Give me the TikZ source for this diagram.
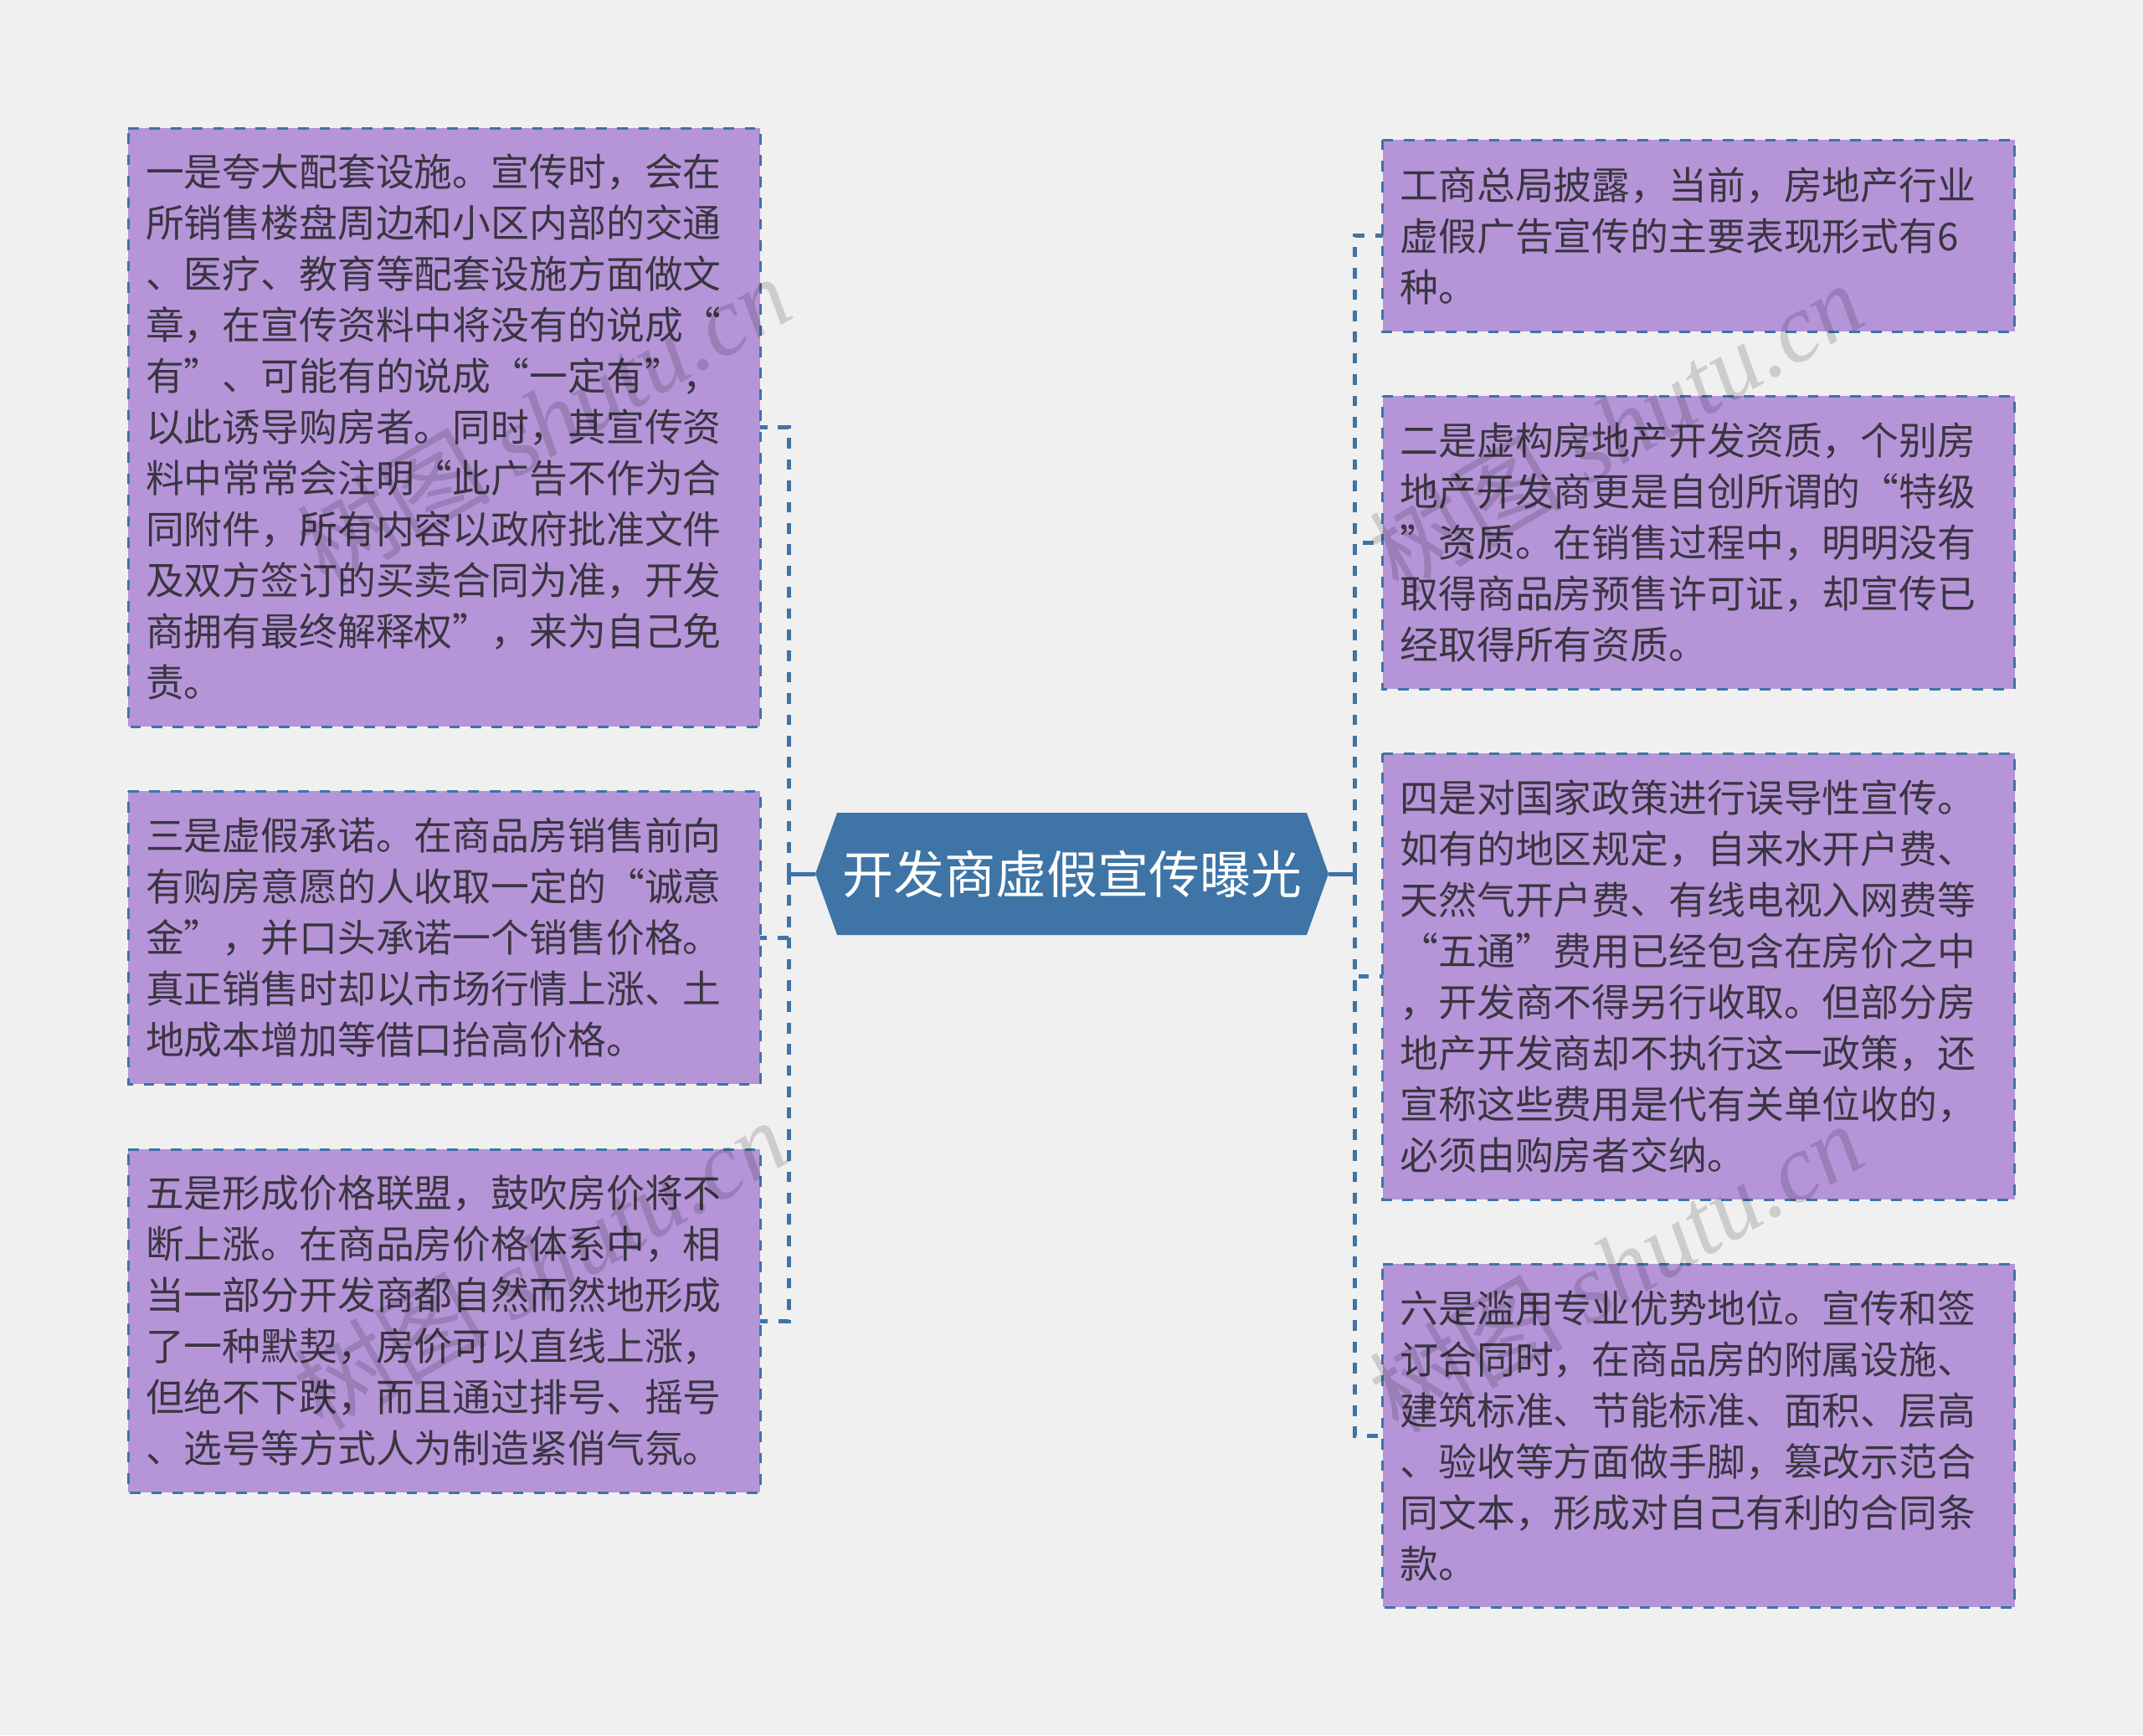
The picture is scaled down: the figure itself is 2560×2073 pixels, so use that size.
\documentclass[tikz,border=0pt]{standalone}
\usepackage{fontspec}
\newfontfamily\cjk{Noto Sans CJK SC}
\newfontfamily\wmcjk[AutoFakeSlant=0.25]{Noto Sans CJK SC}
\newfontfamily\wmlat{Liberation Serif}[ItalicFont=Liberation Serif Italic]
\definecolor{bgc}{HTML}{F0F0F0}
\definecolor{boxc}{HTML}{B595D8}
\definecolor{linec}{HTML}{3E74A6}
\definecolor{txtc}{HTML}{3A3540}
\tikzset{
  x=1pt,y=-1pt,
  textbox/.style={fill=boxc,text=txtc,font=\cjk\fontsize{45.85}{61}\selectfont,align=left,
    text width=713pt,inner xsep=21pt,inner ysep=0pt,outer sep=0pt,minimum width=755pt},
  boxedge/.style={draw=linec,line width=3pt,dash pattern=on 12.7pt off 12.7pt},
  conn/.style={draw=linec,line width=5pt,dash pattern=on 12.7pt off 12.7pt},
  stub/.style={draw=linec,line width=5pt},
  title/.style={text=white,font=\cjk\fontsize{61}{70}\selectfont,inner sep=0pt,outer sep=0pt,
    minimum width=613pt,minimum height=146pt},
  wm/.style={text=black,opacity=0.15,rotate=30,font=\fontsize{116}{120}\selectfont,inner sep=0pt}
}
\begin{document}
\begin{tikzpicture}
\useasboundingbox (0,0) rectangle (2560,2073);
\fill[bgc] (0,0) rectangle (2560,2073);
% central node
\fill[linec] (974,1044) -- (1000,971) -- (1561,971) -- (1587,1044) -- (1561,1117) -- (1000,1117) -- cycle;
\node[title] (hub) at (1280.5,1044) {开发商虚假宣传曝光};
\coordinate (hl) at (942,1044);
\coordinate (hr) at (1618,1044);
% boxes
\node[textbox,minimum height=715pt] (L1) at (530.5,510.5) {一是夸大配套设施。宣传时，会在\\所销售楼盘周边和小区内部的交通\\、医疗、教育等配套设施方面做文\\章，在宣传资料中将没有的说成“\\有”、可能有的说成“一定有”，\\以此诱导购房者。同时，其宣传资\\料中常常会注明“此广告不作为合\\同附件，所有内容以政府批准文件\\及双方签订的买卖合同为准，开发\\商拥有最终解释权”，来为自己免\\责。};
\node[textbox,minimum height=350pt] (L2) at (530.5,1120) {三是虚假承诺。在商品房销售前向\\有购房意愿的人收取一定的“诚意\\金”，并口头承诺一个销售价格。\\真正销售时却以市场行情上涨、土\\地成本增加等借口抬高价格。};
\node[textbox,minimum height=410pt] (L3) at (530.5,1578) {五是形成价格联盟，鼓吹房价将不\\断上涨。在商品房价格体系中，相\\当一部分开发商都自然而然地形成\\了一种默契，房价可以直线上涨，\\但绝不下跌，而且通过排号、摇号\\、选号等方式人为制造紧俏气氛。};
\node[textbox,minimum height=229pt] (R1) at (2029,281.5) {工商总局披露，当前，房地产行业\\虚假广告宣传的主要表现形式有6\\种。};
\node[textbox,minimum height=350pt] (R2) at (2029,648) {二是虚构房地产开发资质，个别房\\地产开发商更是自创所谓的“特级\\”资质。在销售过程中，明明没有\\取得商品房预售许可证，却宣传已\\经取得所有资质。};
\node[textbox,minimum height=533pt] (R3) at (2029,1166.5) {四是对国家政策进行误导性宣传。\\如有的地区规定，自来水开户费、\\天然气开户费、有线电视入网费等\\“五通”费用已经包含在房价之中\\，开发商不得另行收取。但部分房\\地产开发商却不执行这一政策，还\\宣称这些费用是代有关单位收的，\\必须由购房者交纳。};
\node[textbox,minimum height=410pt] (R4) at (2029,1715) {六是滥用专业优势地位。宣传和签\\订合同时，在商品房的附属设施、\\建筑标准、节能标准、面积、层高\\、验收等方面做手脚，篡改示范合\\同文本，形成对自己有利的合同条\\款。};
% connectors
\draw[stub] (hub.west) -- (hl);
\draw[stub] (hub.east) -- (hr);
\foreach \n in {L1,L2,L3} \draw[conn] (hl) |- (\n.east);
\foreach \n in {R1,R2,R3,R4} \draw[conn] (hr) |- (\n.west);
\foreach \n in {L1,L2,L3,R1,R2,R3,R4}
  \draw[boxedge] (\n.north west) -- (\n.north east) -- (\n.south east) -- (\n.south west) -- cycle;
% watermarks
\node[wm] (w1) at (649,502) {\wmcjk 树图\wmlat\itshape\ shutu.cn};
\node[wm] (w2) at (645,1510) {\wmcjk 树图\wmlat\itshape\ shutu.cn};
\node[wm] (w3) at (1930,510) {\wmcjk 树图\wmlat\itshape\ shutu.cn};
\node[wm] (w4) at (1930,1514) {\wmcjk 树图\wmlat\itshape\ shutu.cn};
\end{tikzpicture}
\end{document}
